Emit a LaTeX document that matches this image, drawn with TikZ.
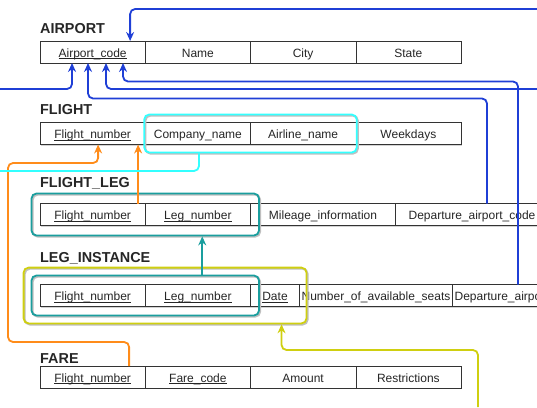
\documentclass[tikz,border=0pt]{standalone}
\usepackage{fontspec}
\setmainfont{Liberation Sans}
\usetikzlibrary{arrows.meta}
\usetikzlibrary{positioning}
\usetikzlibrary{fit}
\usetikzlibrary{shadows}
\definecolor{fkblue}{HTML}{1F3FD6}
\definecolor{fkorange}{HTML}{FF8C1A}
\definecolor{fkcyan}{HTML}{33FFFF}
\definecolor{fkteal}{HTML}{1A9E9E}
\definecolor{fkyellow}{HTML}{CFCF10}
\newcommand{\pk}[1]{\setbox0=\hbox{#1}\rlap{\rule[-2pt]{\wd0}{0.7pt}}\box0}

\begin{document}
\begin{tikzpicture}[x=1pt,y=-1pt]
\tikzstyle{every node}=[font=\fontsize{12}{14}\selectfont, text=black!85]
\tikzstyle{cell}=[draw=black!80, fill=white, minimum height=22pt, minimum width=105.25pt, text height=11pt, text depth=1pt, inner sep=0pt, outer sep=0pt, drop shadow={shadow xshift=0.8pt, shadow yshift=-1.2pt, opacity=0.35}]
\tikzstyle{relname}=[font=\fontsize{14.4}{16}\selectfont\bfseries, anchor=base west, inner sep=0pt]
\tikzstyle{grp}=[rounded corners=5pt, line width=1.8pt, preaction={draw=black!25, transform canvas={shift={(1.2pt,-1.2pt)}}}]
\tikzstyle{fk}=[line width=1.8pt, rounded corners=5pt, -{Stealth[length=9pt,width=8pt]}]
\useasboundingbox (0,0) rectangle (537,407);

% AIRPORT
\node[relname] (tairport) at (40,33) {AIRPORT};
\node[cell, anchor=west] (a1) at (40,52) {\pk{Airport\_code}};
\node[cell, right=0pt of a1] (a2) {Name};
\node[cell, right=0pt of a2] (a3) {City};
\node[cell, right=0pt of a3] (a4) {State};

% FLIGHT
\node[relname] (tflight) at (40,114) {FLIGHT};
\node[cell, anchor=west] (f1) at (40,133.5) {\pk{Flight\_number}};
\node[cell, right=0pt of f1] (f2) {Company\_name};
\node[cell, right=0pt of f2] (f3) {Airline\_name};
\node[cell, right=0pt of f3] (f4) {Weekdays};

% FLIGHT_LEG
\node[relname] (tleg) at (40,187) {FLIGHT\_LEG};
\node[cell, anchor=west] (fl1) at (40,214.5) {\pk{Flight\_number}};
\node[cell, right=0pt of fl1] (fl2) {\pk{Leg\_number}};
\node[cell, right=0pt of fl2, minimum width=145pt] (fl3) {Mileage\_information};
\node[cell, right=0pt of fl3, minimum width=153pt] (fl4) {Departure\_airport\_code};

% LEG_INSTANCE
\node[relname] (tinst) at (40,262) {LEG\_INSTANCE};
\node[cell, anchor=west] (li1) at (40,295.5) {\pk{Flight\_number}};
\node[cell, right=0pt of li1] (li2) {\pk{Leg\_number}};
\node[cell, right=0pt of li2, minimum width=49pt] (li3) {\pk{Date}};
\node[cell, right=0pt of li3, minimum width=153pt] (li4) {Number\_of\_available\_seats};
\node[cell, right=0pt of li4, minimum width=131pt] (li5) {Departure\_airport\_code};

% FARE
\node[relname] (tfare) at (40,363) {FARE};
\node[cell, anchor=west] (fa1) at (40,377) {\pk{Flight\_number}};
\node[cell, right=0pt of fa1] (fa2) {\pk{Fare\_code}};
\node[cell, right=0pt of fa2] (fa3) {Amount};
\node[cell, right=0pt of fa3] (fa4) {Restrictions};

% grouped attributes
\node[grp, draw=fkcyan, fit=(f2)(f3), inner xsep=1pt, inner ysep=8pt] (fkcomp) {};
\node[grp, draw=fkteal, fit=(fl1)(fl2), inner xsep=8.5pt, inner ysep=10pt] (fkleg) {};
\node[grp, draw=fkteal, fit=(li1)(li2), inner xsep=8.5pt, inner ysep=9pt] (fkleginst) {};
\node[grp, draw=fkyellow, fit=(fkleginst)(li3), inner sep=7pt] (fkinst) {};

% free ends
\coordinate (toparr) at (537,9);
\coordinate (leftarr) at (0,89);
\coordinate (rightarr) at (537,89);
\coordinate (cyanout) at (0,171);
\coordinate (yellowin) at (478,407);

% foreign keys
\draw[fk, fkblue] (toparr) -| ([xshift=37.5pt]a1.north);
\draw[fk, fkblue] (leftarr) -| ([xshift=-20.6pt]a1.south);
\draw[fk, fkblue] ([xshift=15pt]fl4.north) -- ++(0,-105) -| ([xshift=-4.6pt]a1.south);
\draw[fk, fkblue] (rightarr) -| ([xshift=13.4pt]a1.south);
\draw[fk, fkblue] (li5.north) -- ++(0,-203) -| ([xshift=30.4pt]a1.south);
\draw[fk, fkorange] ([xshift=36.5pt]fa1.north) -- ++(0,-24) -| (8,163) -| ([xshift=5.5pt]f1.south);
\draw[fk, fkorange] ([xshift=45.5pt]fl1.north) -- ([xshift=45.5pt]f1.south);
\draw[fk, fkteal] ([xshift=57pt]fkleginst.north) -- ([xshift=57pt]fkleg.south);
\draw[line width=1.8pt, rounded corners=5pt, fkcyan] ([xshift=-51.5pt]fkcomp.south) |- (cyanout);
\draw[fk, fkyellow] (yellowin) -- ++(0,-57) -| ([xshift=116.5pt]fkinst.south);
\end{tikzpicture}
\end{document}
